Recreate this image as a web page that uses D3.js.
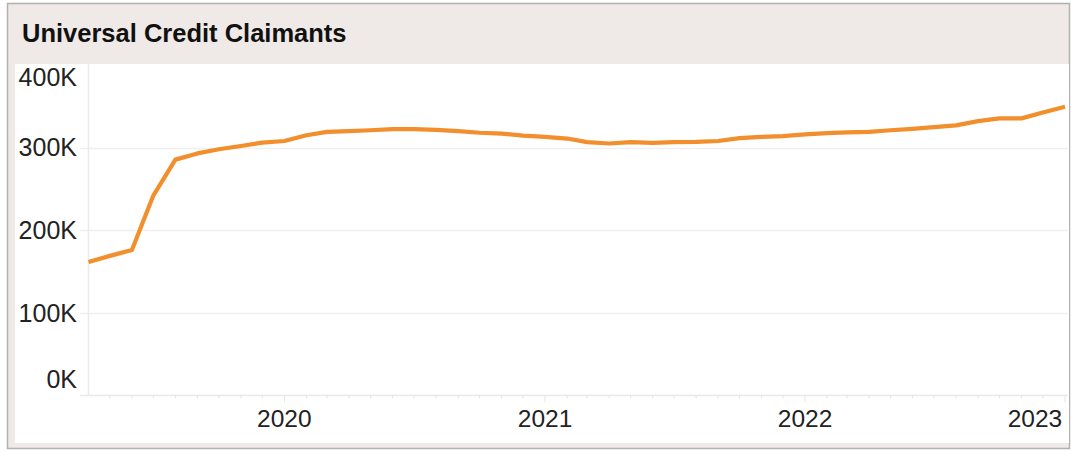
<!DOCTYPE html>
<html>
<head>
<meta charset="utf-8">
<script src="https://cdn.jsdelivr.net/npm/d3@7"></script>
<style>
  html, body { margin: 0; padding: 0; background: #ffffff; }
  svg { display: block; font-family: "Liberation Sans", Arial, sans-serif; }
</style>
</head>
<body>
<svg id="chart" width="1071" height="452"></svg>
<script>
// Monthly Universal Credit claimant counts
const months = [
  "2019-04", "2019-05", "2019-06", "2019-07", "2019-08", "2019-09", "2019-10", "2019-11", "2019-12",
  "2020-01", "2020-02", "2020-03", "2020-04", "2020-05", "2020-06", "2020-07", "2020-08", "2020-09", "2020-10", "2020-11", "2020-12",
  "2021-01", "2021-02", "2021-03", "2021-04", "2021-05", "2021-06", "2021-07", "2021-08", "2021-09", "2021-10", "2021-11", "2021-12",
  "2022-01", "2022-02", "2022-03", "2022-04", "2022-05", "2022-06", "2022-07", "2022-08", "2022-09", "2022-10", "2022-11", "2022-12",
  "2023-01"
];
const claimants = [
  161500, 169000, 176000, 242000, 285500, 293000, 298000, 302000, 306000,
  308000, 315000, 319000, 320000, 321000, 322400, 322400, 321500, 320000, 318000, 317000, 314500,
  313000, 311000, 306700, 305000, 306700, 305800, 306700, 307000, 308000, 311500, 313000, 314000,
  316000, 317600, 318400, 319000, 321000, 322800, 324800, 327000, 332000, 335400, 335400, 342600,
  349500
];
const yTicks = [0, 100000, 200000, 300000, 400000];
const yearTicks = ["2020", "2021", "2022", "2023"];
const chartTitle = "Universal Credit Claimants";

const parseMonth = d3.timeParse("%Y-%m");
const data = months.map((m, i) => ({ date: parseMonth(m), value: claimants[i] }));

const svg = d3.select("#chart");

// frame and title band
svg.append("rect").attr("x", 7.5).attr("y", 3.5).attr("width", 1062).attr("height", 445)
  .attr("fill", "#efe9e7").attr("stroke", "#b4b1b0").attr("stroke-width", 1.5);
svg.append("rect").attr("x", 15).attr("y", 64).attr("width", 1054).attr("height", 379)
  .attr("fill", "#ffffff");
svg.append("text").attr("x", 22).attr("y", 42)
  .attr("font-size", 25.5).attr("font-weight", "bold").attr("fill", "#111")
  .text(chartTitle);

const plot = { left: 88.5, right: 1068, top: 64, bottom: 395.5 };

const x = d3.scaleTime()
  .domain([parseMonth("2019-04"), parseMonth("2023-01")])
  .range([plot.left, 1065]);
const y = d3.scaleLinear().domain([0, 400000]).range([plot.bottom, 65]);

// horizontal gridlines
svg.append("g").selectAll("line").data(yTicks.slice(1, 4)).join("line")
  .attr("x1", 80).attr("x2", plot.right)
  .attr("y1", d => Math.round(y(d)) + 0.5).attr("y2", d => Math.round(y(d)) + 0.5)
  .attr("stroke", "#efefef").attr("stroke-width", 1.5);

// axis lines
svg.append("line").attr("x1", 80).attr("x2", plot.right)
  .attr("y1", plot.bottom).attr("y2", plot.bottom)
  .attr("stroke", "#e8e8e8").attr("stroke-width", 1.5);
svg.append("line").attr("x1", plot.left).attr("x2", plot.left)
  .attr("y1", plot.top).attr("y2", plot.bottom)
  .attr("stroke", "#ebebeb").attr("stroke-width", 1.5);

// monthly ticks along the date axis, longer at each year
const monthTicks = d3.timeMonth.range(parseMonth("2019-05"), parseMonth("2023-02"));
svg.append("g").selectAll("line").data(monthTicks).join("line")
  .attr("x1", d => x(d)).attr("x2", d => x(d))
  .attr("y1", plot.bottom)
  .attr("y2", d => plot.bottom + (d.getMonth() === 0 ? 7 : 3))
  .attr("stroke", "#e4e4e4").attr("stroke-width", 1);

// y axis labels (kept inside the plot band)
const fmtK = d => d3.format("d")(d / 1000) + "K";
svg.append("g").selectAll("text").data(yTicks).join("text")
  .attr("x", 77).attr("text-anchor", "end")
  .attr("y", d => Math.min(Math.max(y(d), 77), 379))
  .attr("dy", "0.35em")
  .attr("font-size", 25).attr("fill", "#222")
  .text(fmtK);

// x axis year labels
const fmtYear = d3.timeFormat("%Y");
const yearDates = yearTicks.map(t => d3.timeParse("%Y")(t));
svg.append("g").selectAll("text").data(yearDates).join("text")
  .attr("x", d => Math.min(x(d), 1035)).attr("y", 427)
  .attr("text-anchor", "middle")
  .attr("font-size", 24.5).attr("fill", "#222")
  .text(fmtYear);

// claimant line
const line = d3.line().x(d => x(d.date)).y(d => y(d.value));
svg.append("path").datum(data)
  .attr("d", line)
  .attr("fill", "none").attr("stroke", "#f28e2b")
  .attr("stroke-width", 4.2).attr("stroke-linejoin", "round");
</script>
</body>
</html>
